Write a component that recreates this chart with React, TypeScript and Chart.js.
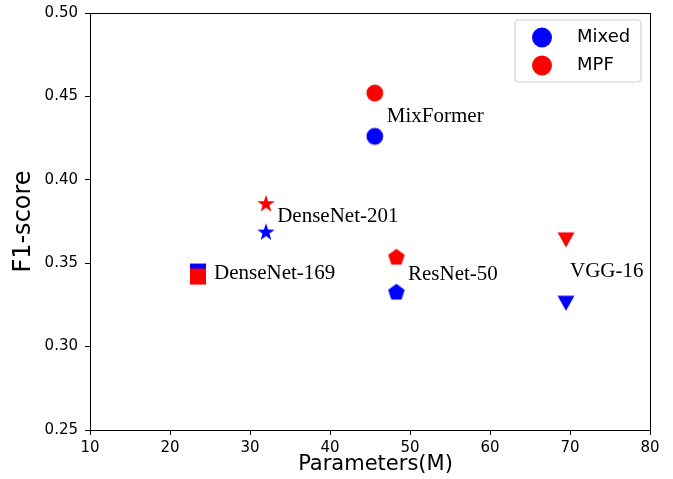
import React, { useEffect, useRef } from "react";
import { Chart, registerables } from "chart.js";

Chart.register(...registerables);

// ---- data ----
const models = ["MixFormer", "DenseNet-201", "DenseNet-169", "ResNet-50", "VGG-16"];
const paramsM = [45.6, 32.0, 23.5, 48.3, 69.5];
const mixedF1 = [0.426, 0.369, 0.345, 0.333, 0.326];
const mpfF1 = [0.452, 0.386, 0.342, 0.354, 0.364];
const shapes = ["circle", "star", "square", "pentagon", "triangleDown"];
// annotation anchors (data coordinates)
const labelX = [47.1, 33.4, 25.5, 49.75, 70.0];
const labelY = [0.438, 0.378, 0.344, 0.343, 0.345];
const xTicks = [10, 20, 30, 40, 50, 60, 70, 80];
const yTicks = [0.25, 0.3, 0.35, 0.4, 0.45, 0.5];
const seriesNames = ["Mixed", "MPF"];
const seriesColors = ["#0000ff", "#ff0000"];
const xTitle = "Parameters(M)";
const yTitle = "F1-score";

function makeMarker(shape: string, color: string): HTMLCanvasElement {
  const c = document.createElement("canvas");
  c.width = 22;
  c.height = 22;
  const ctx = c.getContext("2d")!;
  const cx = 11, cy = 11;
  ctx.fillStyle = color;
  ctx.beginPath();
  if (shape === "circle") {
    ctx.arc(cx, cy, 8.4, 0, Math.PI * 2);
  } else if (shape === "square") {
    ctx.rect(cx - 8, cy - 8, 16, 16);
  } else if (shape === "star") {
    const R = 9.2, r = R * 0.39;
    for (let i = 0; i < 10; i++) {
      const rad = i % 2 === 0 ? R : r;
      const a = -Math.PI / 2 + (i * Math.PI) / 5;
      const px = cx + rad * Math.cos(a), py = cy + 1 + rad * Math.sin(a);
      if (i === 0) ctx.moveTo(px, py); else ctx.lineTo(px, py);
    }
  } else if (shape === "pentagon") {
    const R = 8.7;
    for (let i = 0; i < 5; i++) {
      const a = -Math.PI / 2 + (i * 2 * Math.PI) / 5;
      const px = cx + R * Math.cos(a), py = cy + 1 + R * Math.sin(a);
      if (i === 0) ctx.moveTo(px, py); else ctx.lineTo(px, py);
    }
  } else if (shape === "triangleDown") {
    ctx.moveTo(cx - 8.5, cy - 7.6);
    ctx.lineTo(cx + 8.5, cy - 7.6);
    ctx.lineTo(cx, cy + 7.6);
  }
  ctx.closePath();
  ctx.fill();
  return c;
}

const decorPlugin = {
  id: "decor",
  beforeDraw(chart: any) {
    const ctx = chart.ctx;
    ctx.save();
    ctx.fillStyle = "#ffffff";
    ctx.fillRect(0, 0, chart.width, chart.height);
    ctx.restore();
  },
  afterDatasetsDraw(chart: any) {
    const ctx = chart.ctx;
    const { left, right, top, bottom } = chart.chartArea;
    const xs = chart.scales.x, ys = chart.scales.y;
    ctx.save();
    // annotation labels
    ctx.fillStyle = "#000";
    ctx.font = "21px 'Liberation Serif', 'Times New Roman', serif";
    ctx.textAlign = "left";
    ctx.textBaseline = "middle";
    models.forEach((m, i) => {
      ctx.fillText(m, xs.getPixelForValue(labelX[i]), ys.getPixelForValue(labelY[i]));
    });
    // x axis title
    ctx.font = "21px 'DejaVu Sans', sans-serif";
    ctx.textAlign = "center";
    ctx.fillText(xTitle, (left + right) / 2 + 5.5, 464.5);
    ctx.textAlign = "left";
    // frame
    ctx.strokeStyle = "#000";
    ctx.lineWidth = 1;
    ctx.strokeRect(Math.round(left) + 0.5, Math.round(top) + 0.5, Math.round(right - left), Math.round(bottom - top));
    // legend
    const bx = right - 135, by = top + 7, bw = 126, bh = 62, rr = 4;
    ctx.beginPath();
    ctx.moveTo(bx + rr, by);
    ctx.lineTo(bx + bw - rr, by);
    ctx.quadraticCurveTo(bx + bw, by, bx + bw, by + rr);
    ctx.lineTo(bx + bw, by + bh - rr);
    ctx.quadraticCurveTo(bx + bw, by + bh, bx + bw - rr, by + bh);
    ctx.lineTo(bx + rr, by + bh);
    ctx.quadraticCurveTo(bx, by + bh, bx, by + bh - rr);
    ctx.lineTo(bx, by + rr);
    ctx.quadraticCurveTo(bx, by, bx + rr, by);
    ctx.closePath();
    ctx.fillStyle = "rgba(255,255,255,0.85)";
    ctx.fill();
    ctx.strokeStyle = "#d3d3d3";
    ctx.lineWidth = 1.2;
    ctx.stroke();
    ctx.font = "18px 'DejaVu Sans', sans-serif";
    ctx.textBaseline = "middle";
    seriesNames.forEach((n, i) => {
      const yy = by + 17.5 + i * 28;
      ctx.beginPath();
      ctx.fillStyle = seriesColors[i];
      ctx.arc(bx + 27, yy, 10, 0, Math.PI * 2);
      ctx.fill();
      ctx.fillStyle = "#000";
      ctx.fillText(n, bx + 62, yy);
    });
    ctx.restore();
  },
};

export default function App() {
  const ref = useRef<HTMLCanvasElement>(null);
  useEffect(() => {
    document.body.style.margin = "0";
    const canvas = ref.current!;
    const mixedStyles = shapes.map((s) => makeMarker(s, seriesColors[0]));
    const mpfStyles = shapes.map((s) => makeMarker(s, seriesColors[1]));
    const tickFont = { family: "'DejaVu Sans', sans-serif", size: 15 };
    const chart = new Chart(canvas, {
      type: "scatter",
      data: {
        datasets: [
          {
            label: seriesNames[0],
            data: paramsM.map((x, i) => ({ x, y: mixedF1[i] })),
            pointStyle: mixedStyles as any,
            backgroundColor: seriesColors[0],
            order: 1,
          },
          {
            label: seriesNames[1],
            data: paramsM.map((x, i) => ({ x, y: mpfF1[i] })),
            pointStyle: mpfStyles as any,
            backgroundColor: seriesColors[1],
            order: 0,
          },
        ],
      },
      options: {
        responsive: false,
        devicePixelRatio: 1,
        animation: false,
        layout: { padding: { left: 0, top: 13, right: 23, bottom: 0 } },
        plugins: { legend: { display: false }, tooltip: { enabled: false } },
        scales: {
          x: {
            type: "linear",
            min: 10,
            max: 80,
            afterFit: (s: any) => { s.height = 49; s.paddingLeft = 0; s.paddingRight = 0; },
            afterBuildTicks: (s: any) => { s.ticks = xTicks.map((v) => ({ value: v })); },
            border: { display: false },
            grid: { drawOnChartArea: false, drawTicks: true, tickLength: 5, color: "#000", tickColor: "#000" },
            ticks: { font: tickFont, color: "#000", padding: 4, maxRotation: 0, callback: (v: any) => String(v) },
            title: { display: false, text: xTitle },
          },
          y: {
            type: "linear",
            min: 0.25,
            max: 0.5,
            afterFit: (s: any) => { s.width = 90; s.paddingTop = 0; s.paddingBottom = 0; },
            afterBuildTicks: (s: any) => { s.ticks = yTicks.map((v) => ({ value: v })); },
            border: { display: false },
            grid: { drawOnChartArea: false, drawTicks: true, tickLength: 5, color: "#000", tickColor: "#000" },
            ticks: { font: tickFont, color: "#000", padding: 7, callback: (v: any) => Number(v).toFixed(2) },
            title: {
              display: true,
              text: yTitle,
              color: "#000",
              font: { family: "'DejaVu Sans', sans-serif", size: 24, lineHeight: 1 },
              padding: { top: 12, bottom: 0 },
            },
          },
        },
      },
      plugins: [decorPlugin],
    } as any);
    return () => chart.destroy();
  }, []);
  return (
    <div style={{ width: 673, height: 479 }}>
      <canvas ref={ref} width={673} height={479} style={{ display: "block" }} />
    </div>
  );
}
